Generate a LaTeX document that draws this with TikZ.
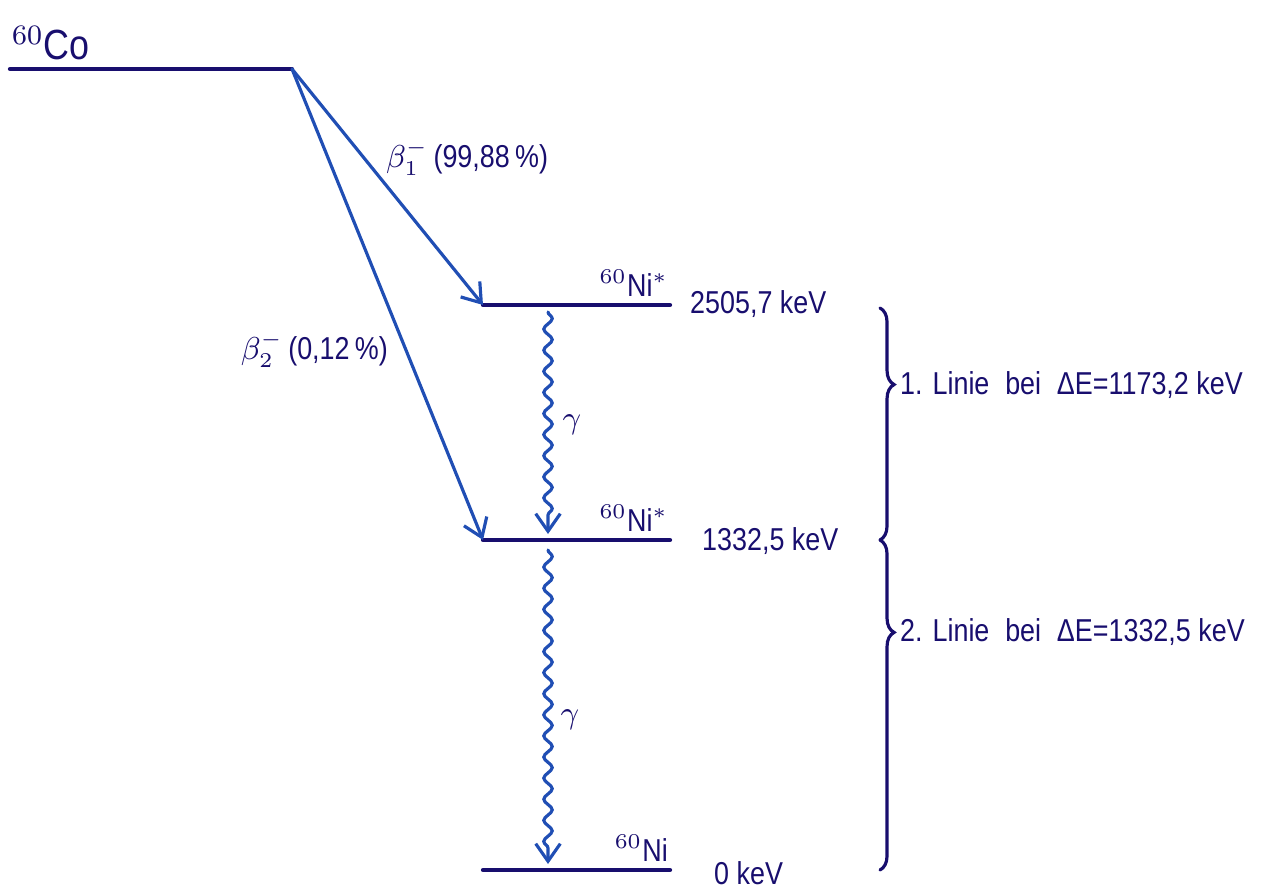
\documentclass[tikz,border=0pt]{standalone}
\usepackage{fontspec}
\setmainfont[FakeStretch=0.85]{Liberation Sans}
\usetikzlibrary{arrows.meta,decorations.pathmorphing,decorations.pathreplacing}
\definecolor{ink}{RGB}{24,14,110}
\definecolor{beta}{RGB}{32,78,180}
\tikzset{
  level/.style={draw=ink,line width=1.2pt},
  decay/.style={draw=beta,line width=0.9pt,->},
  gammaray/.style={draw=beta,line width=0.9pt,->,decorate,
    decoration={snake,amplitude=1.2pt,segment length=6pt,post length=4pt}},
  lbl/.style={text=ink,inner sep=1pt,font=\fontsize{9}{11}\selectfont},
  span/.style={draw=ink,line width=0.9pt,decorate,decoration={brace,amplitude=4pt}},
}
\begin{document}
\begin{tikzpicture}[x=0.01cm,y=-0.01cm,line cap=round,>={Straight Barb[length=5pt,width=7pt]}]
	\useasboundingbox (0,0) rectangle (1282,894);
	% energy levels
	\coordinate (co0) at (10,69);  \coordinate (co) at (292,69);
	\coordinate (niA) at (483,305); \coordinate (niAr) at (670,305);
	\coordinate (niB) at (483,540); \coordinate (niBr) at (670,540);
	\coordinate (ni0) at (483,870); \coordinate (ni0r) at (670,870);
	\draw[level] (co0)--(co);
	\draw[level] (niA)--(niAr);
	\draw[level] (niB)--(niBr);
	\draw[level] (ni0)--(ni0r);
	\node[lbl,anchor=south west,font=\fontsize{12}{14}\selectfont] (colbl) at (8,64) {$^{60}$Co};
	\node[lbl,anchor=south east] (niAlbl) at (672,301) {$^{60}$Ni$^{*}$};
	\node[lbl,anchor=south east] (niBlbl) at (672,536) {$^{60}$Ni$^{*}$};
	\node[lbl,anchor=south east] (ni0lbl) at (672,866) {$^{60}$Ni};
	\node[lbl,anchor=west] (eA) at (686,304) {2505,7 keV};
	\node[lbl,anchor=west] (eB) at (698,541) {1332,5 keV};
	\node[lbl,anchor=west] (e0) at (710,873) {0 keV};
	% beta decays
	\draw[decay] (co)--(niA);
	\draw[decay] (co)--(niB);
	\node[lbl,anchor=west] (b1) at (382,158) {$\beta^-_1$\,(99,88\,\%)};
	\node[lbl,anchor=east] (b2) at (392,350) {$\beta^-_2$\,(0,12\,\%)};
	% gamma transitions
	\coordinate (gA) at (548,312); \coordinate (gB) at (548,534);
	\coordinate (gC) at (548,550); \coordinate (gD) at (548,864);
	\draw[gammaray] (gA)--(gB);
	\draw[gammaray] (gC)--(gD);
	\node[lbl] (g1) at (572,425) {$\gamma$};
	\node[lbl] (g2) at (570,720) {$\gamma$};
	% braces
	\coordinate (brA) at (880,308); \coordinate (brB) at (880,540); \coordinate (brC) at (880,870);
	\draw[span,decoration={aspect=0.33}] (brA)--(brB);
	\draw[span,decoration={aspect=0.28}] (brB)--(brC);
	\node[lbl,anchor=west] (l1) at (896,385) {1. Linie\enspace bei\enspace ΔE=1173,2 keV};
	\node[lbl,anchor=west] (l2) at (896,632) {2. Linie\enspace bei\enspace ΔE=1332,5 keV};
\end{tikzpicture}
\end{document}
